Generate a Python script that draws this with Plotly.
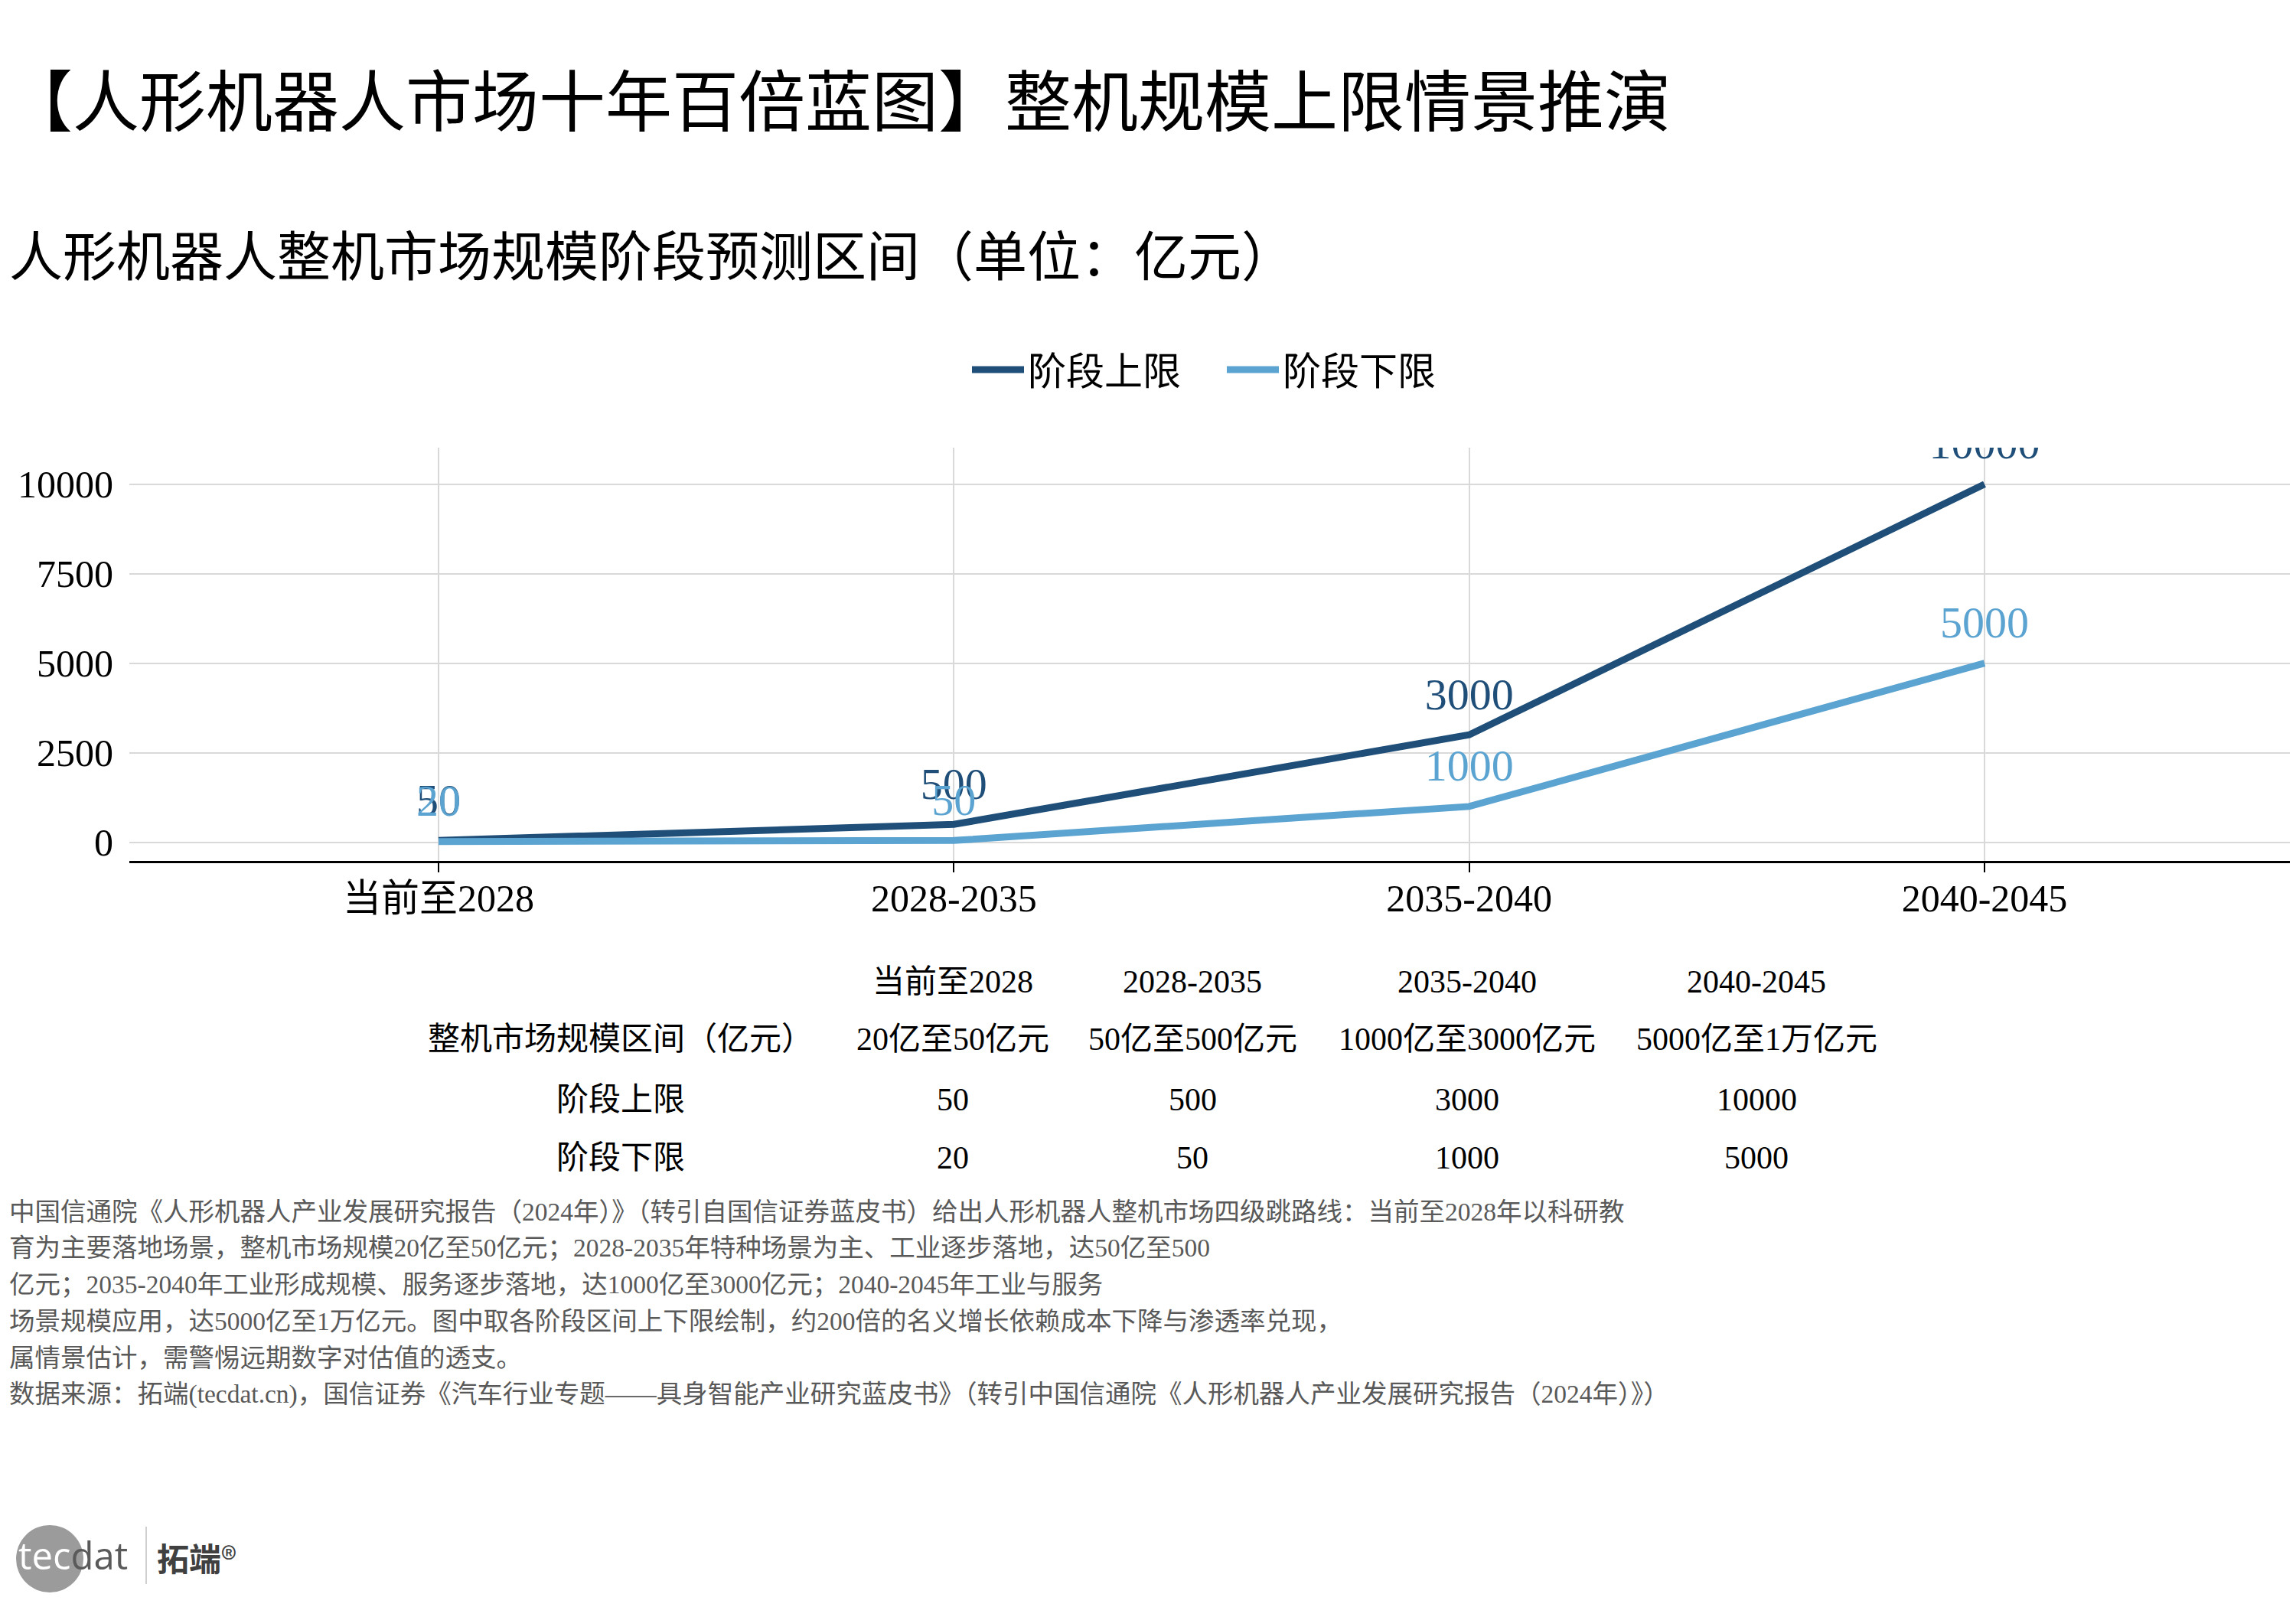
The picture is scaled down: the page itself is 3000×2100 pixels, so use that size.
import plotly.graph_objects as go

# ---------------- data ----------------
categories = ["当前至2028", "2028-2035", "2035-2040", "2040-2045"]
upper = [50, 500, 3000, 10000]
lower = [20, 50, 1000, 5000]
series_names = ["阶段上限", "阶段下限"]
y_ticks = [0, 2500, 5000, 7500, 10000]

table_header = ["当前至2028", "2028-2035", "2035-2040", "2040-2045"]
table_row_labels = ["整机市场规模区间（亿元）", "阶段上限", "阶段下限"]
table_ranges = ["20亿至50亿元", "50亿至500亿元", "1000亿至3000亿元", "5000亿至1万亿元"]
table_upper = ["50", "500", "3000", "10000"]
table_lower = ["20", "50", "1000", "5000"]

title_text = "【人形机器人市场十年百倍蓝图】整机规模上限情景推演"
subtitle_text = "人形机器人整机市场规模阶段预测区间（单位：亿元）"
note_lines = [
    "中国信通院《人形机器人产业发展研究报告（2024年）》（转引自国信证券蓝皮书）给出人形机器人整机市场四级跳路线：当前至2028年以科研教",
    "育为主要落地场景，整机市场规模20亿至50亿元；2028-2035年特种场景为主、工业逐步落地，达50亿至500",
    "亿元；2035-2040年工业形成规模、服务逐步落地，达1000亿至3000亿元；2040-2045年工业与服务",
    "场景规模应用，达5000亿至1万亿元。图中取各阶段区间上下限绘制，约200倍的名义增长依赖成本下降与渗透率兑现，",
    "属情景估计，需警惕远期数字对估值的透支。",
    "数据来源：拓端(tecdat.cn)，国信证券《汽车行业专题——具身智能产业研究蓝皮书》（转引中国信通院《人形机器人产业发展研究报告（2024年）》）",
]

# ---------------- style ----------------
W, H = 3000, 2100
OFF = 8  # page offset of the figure inside the browser
L, T = 169 - OFF, 585 - OFF
R = W - (2997 - OFF)
B = H - (1125 - OFF)
PW, PH = W - L - R, H - T - B
FONT = "Liberation Serif, 'Noto Sans CJK SC', serif"
DARK = "#1f4e79"
LIGHT = "#5ba3d0"


def px(x):
    return (x - OFF - L) / PW


def py(y):
    return (H - B - (y - OFF)) / PH


fig = go.Figure()
for name, vals, color in [(series_names[0], upper, DARK), (series_names[1], lower, LIGHT)]:
    fig.add_trace(go.Scatter(
        x=categories, y=vals, name=name,
        mode="lines+markers+text",
        line=dict(color=color, width=9),
        marker=dict(size=29, color="rgba(0,0,0,0)"),
        text=[str(v) for v in vals],
        textposition="top center",
        textfont=dict(family=FONT, size=58, color=color),
        cliponaxis=True,
        hoverinfo="skip",
    ))

annotations = []
# subtitle
annotations.append(dict(text=subtitle_text, xref="paper", yref="paper", x=px(10), y=py(337),
                        xanchor="left", yanchor="middle", showarrow=False,
                        font=dict(family=FONT, size=70, color="black")))

# table
col_x = [1245, 1558, 1917, 2295]
row_y = [1283, 1358, 1437, 1513]
tfont = dict(family=FONT, size=42, color="black")
for cx, t in zip(col_x, table_header):
    annotations.append(dict(text=t, xref="paper", yref="paper", x=px(cx), y=py(row_y[0]),
                            xanchor="center", yanchor="middle", showarrow=False, font=tfont))
for ry, lab in zip(row_y[1:], table_row_labels):
    annotations.append(dict(text=lab, xref="paper", yref="paper", x=px(811), y=py(ry),
                            xanchor="center", yanchor="middle", showarrow=False, font=tfont))
for ry, row in zip(row_y[1:], [table_ranges, table_upper, table_lower]):
    for cx, t in zip(col_x, row):
        annotations.append(dict(text=t, xref="paper", yref="paper", x=px(cx), y=py(ry),
                                xanchor="center", yanchor="middle", showarrow=False, font=tfont))

# notes
note_y = [1583, 1630, 1678, 1726, 1774, 1822]
for ny, line in zip(note_y, note_lines):
    annotations.append(dict(text=line, xref="paper", yref="paper", x=px(10), y=py(ny),
                            xanchor="left", yanchor="middle", showarrow=False,
                            font=dict(family=FONT, size=33.5, color="#595959")))

# logo
annotations.append(dict(text="<span style='color:white'>tec</span><span style='color:#5a5a5a'>dat</span>",
                        xref="paper", yref="paper", x=px(22), y=py(2032),
                        xanchor="left", yanchor="middle", showarrow=False,
                        font=dict(family="Open Sans", size=49, color="#5a5a5a")))
annotations.append(dict(text="<b>拓端</b>®", xref="paper", yref="paper", x=px(203), y=py(2034),
                        xanchor="left", yanchor="middle", showarrow=False,
                        font=dict(family="'Noto Sans CJK SC'", size=42, color="#404040")))

shapes = [
    dict(type="circle", xref="paper", yref="paper", x0=px(21), x1=px(109), y0=py(2081), y1=py(1993),
         fillcolor="#9b9b9b", line=dict(width=0), layer="below"),
    dict(type="line", xref="paper", yref="paper", x0=px(191), x1=px(191), y0=py(1995), y1=py(2070),
         line=dict(color="#cfcfcf", width=2)),
]

fig.update_layout(
    width=W, height=H,
    margin=dict(l=L, r=R, t=T, b=B, pad=0),
    paper_bgcolor="white", plot_bgcolor="white",
    font=dict(family=FONT, size=46, color="black"),
    title=dict(text=title_text, x=0, xanchor="left", xref="container",
               y=1 - (135 - OFF) / H, yanchor="middle",
               font=dict(family=FONT, size=87, color="black")),
    legend=dict(orientation="h", x=0.5 + 15 / PW, xanchor="center", y=py(483), yanchor="middle",
                font=dict(family=FONT, size=50, color="black"), itemwidth=68,
                entrywidth=250, bgcolor="rgba(0,0,0,0)"),
    showlegend=True,
    annotations=annotations,
    shapes=shapes,
    xaxis=dict(
        range=[-0.6, 3.6], showgrid=True, gridcolor="#d9d9d9", gridwidth=2,
        showline=True, linecolor="black", linewidth=3,
        ticks="outside", ticklen=12, tickwidth=2, tickcolor="black",
        tickfont=dict(family=FONT, size=50, color="black"),
        ticklabelstandoff=-9, zeroline=False,
    ),
    yaxis=dict(
        range=[-520, 11020], tickvals=y_ticks, tickformat="d",
        showgrid=True, gridcolor="#d9d9d9", gridwidth=2,
        showline=False, zeroline=False, ticks="",
        tickfont=dict(family=FONT, size=50, color="black"),
        ticklabelstandoff=20,
    ),
)

fig.write_html("out.html")
